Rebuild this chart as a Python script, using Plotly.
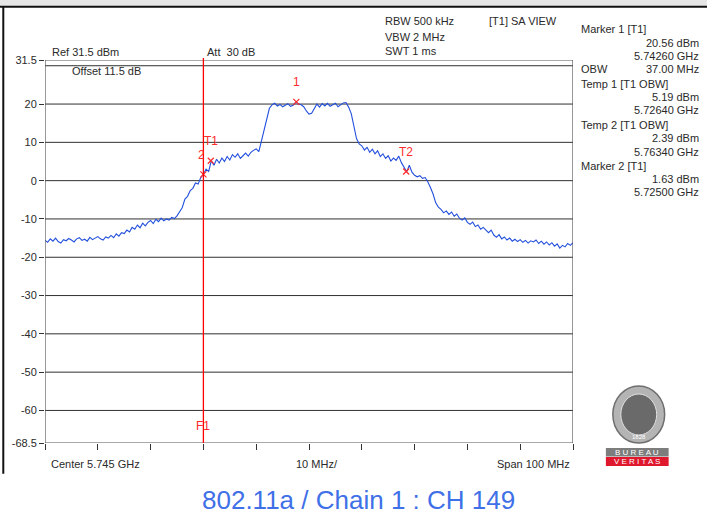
import plotly.graph_objects as go

CENTER_GHZ = 5.745
SPAN_MHZ = 100.0
STEP_MHZ = 0.5

# trace level (dBm), one sample every 0.5 MHz from -50 MHz to +50 MHz around centre
level_dbm = [
    -15.6, -16.1, -15.2, -15.8, -15.0, -15.9, -16.3, -15.4, -15.7, -15.1,
    -15.5, -16.0, -15.2, -14.9, -15.6, -15.3, -15.8, -14.8, -15.4, -15.1,
    -14.6, -15.2, -15.5, -14.7, -15.0, -14.3, -14.9, -13.9, -14.5, -13.6,
    -13.8, -12.9, -13.4, -12.2, -12.7, -11.6, -12.3, -11.1, -11.8, -10.9,
    -10.4, -11.2, -10.1, -10.7, -9.8, -10.5, -10.0, -10.3, -9.6, -9.9,
    -9.2, -8.1, -7.0, -4.8, -4.1, -2.6, -2.0, -0.6, -0.9, 0.8,
    1.6, 3.0, 2.4, 5.2, 4.0, 5.6, 4.6, 5.9, 5.0, 6.3,
    5.4, 6.8, 6.1, 7.0, 5.8, 6.5, 7.2, 6.4, 7.4, 7.9,
    8.3, 7.6, 10.5, 13.8, 16.8, 18.9, 19.8, 20.2, 19.5, 19.9,
    19.3, 19.8, 20.1, 19.4, 19.7, 20.5, 20.0, 19.8, 19.3, 18.2,
    17.4, 17.6, 18.9, 20.0, 19.2, 20.1, 19.5, 20.2, 19.4, 19.9,
    20.2, 19.3, 19.8, 20.3, 20.4, 19.2, 17.5, 14.0, 11.0, 9.6,
    9.1, 8.0, 8.7, 7.4, 8.2, 7.0, 7.8, 6.3, 7.0, 5.8,
    6.5, 5.1, 5.9, 5.3, 6.4, 4.7, 3.6, 2.3, 4.0, 2.2,
    1.4, 1.0, 1.3, 0.6, 0.8, -0.3, -1.8, -3.5, -5.8, -6.9,
    -7.5, -8.4, -7.9, -8.8, -8.2, -9.3, -8.7, -9.8, -10.3, -9.7,
    -10.9, -11.4, -10.8, -12.0, -11.6, -12.7, -12.2, -13.0, -13.6, -12.9,
    -14.2, -14.8, -14.1, -15.2, -14.7, -15.5, -15.0, -15.8, -15.3, -15.9,
    -15.4, -16.1, -15.6, -16.3, -15.7, -16.0, -15.5, -16.4, -15.8, -16.6,
    -16.0, -16.8, -16.2, -17.1, -16.5, -17.6, -16.9, -17.3, -16.4, -16.9,
    -16.2,
]
freq_ghz = [CENTER_GHZ + (-SPAN_MHZ / 2 + STEP_MHZ * i) / 1000.0 for i in range(len(level_dbm))]

# markers
marker_names = ["1", "2", "T1", "T2"]
marker_freq = [5.74260, 5.72500, 5.72640, 5.76340]
marker_level = [20.56, 1.63, 5.19, 2.39]

y_tick_vals = [31.5, 20, 10, 0, -10, -20, -30, -40, -50, -60, -68.5]
y_tick_text = ["31.5", "20", "10", "0", "-10", "-20", "-30", "-40", "-50", "-60", "-68.5"]
grid_levels = [30, 20, 10, 0, -10, -20, -30, -40, -50, -60]
x_tick_vals = [5.695 + 0.01 * k for k in range(11)]
f1_freq = 5.725

Y_MIN, Y_MAX = -68.5, 31.5
X_MIN, X_MAX = 5.695, 5.795

FONT = "Liberation Sans, Arial, sans-serif"
TXT = "#2a2a2a"
RED = "#ff2a2a"

fig = go.Figure()

fig.add_trace(go.Scatter(x=freq_ghz, y=level_dbm, mode="lines",
                         line=dict(color="#2350dc", width=1.1), hoverinfo="skip"))
fig.add_trace(go.Scatter(x=marker_freq, y=marker_level, mode="markers",
                         marker=dict(symbol="x-thin", size=6, line=dict(color=RED, width=1.2)),
                         hoverinfo="skip"))

shapes = []
for g in grid_levels:
    shapes.append(dict(type="line", xref="x", yref="y", x0=X_MIN, x1=X_MAX, y0=g, y1=g,
                       line=dict(color="#303030", width=1), layer="below"))
# frame
shapes.append(dict(type="rect", xref="x", yref="y", x0=X_MIN, x1=X_MAX, y0=Y_MIN, y1=Y_MAX,
                   line=dict(color="#555555", width=1.2)))
# F1 line
shapes.append(dict(type="line", xref="x", yref="paper", x0=f1_freq, x1=f1_freq, y0=0, y1=1.005,
                   line=dict(color="#ff0000", width=1.3)))
# window chrome
shapes.append(dict(type="rect", xref="paper", yref="paper", x0=-0.09, x1=1.3, y0=1.14, y1=1.17,
                   fillcolor="#e6e6e6", line=dict(width=0), layer="below"))
shapes.append(dict(type="line", xref="paper", yref="paper", x0=-0.09, x1=1.3, y0=1.139, y1=1.139,
                   line=dict(color="#111111", width=2)))
shapes.append(dict(type="line", xref="paper", yref="paper", x0=-0.079, x1=-0.079, y0=-0.08, y1=1.139,
                   line=dict(color="#111111", width=2)))

annotations = []

def txt(x, y, s, anchor="left", size=11, color=TXT, xref="paper", yref="paper"):
    annotations.append(dict(x=x, y=y, xref=xref, yref=yref, text=s, showarrow=False,
                            xanchor=anchor, yanchor="middle",
                            font=dict(family=FONT, size=size, color=color)))

# pixel helpers for the header/side panel texts (plot area: x 43..573, y 60..443)
def px(xp):
    return (xp - 43) / 530.0

def py(yp):
    return (443 - yp) / 383.0

txt(px(48), py(52), "Ref 31.5 dBm")
txt(px(204), py(52), "Att  30 dB")
txt(px(68), py(71), "Offset 11.5 dB")
txt(px(382), py(21), "RBW 500 kHz")
txt(px(382), py(37), "VBW 2 MHz")
txt(px(382), py(51), "SWT 1 ms")
txt(px(487), py(21), "[T1] SA VIEW")

side = [
    (29, "Marker 1 [T1]", None),
    (43, None, "20.56 dBm"),
    (56, None, "5.74260 GHz"),
    (69, "OBW", "37.00 MHz"),
    (84, "Temp 1 [T1 OBW]", None),
    (97, None, "5.19 dBm"),
    (110, None, "5.72640 GHz"),
    (125, "Temp 2 [T1 OBW]", None),
    (138, None, "2.39 dBm"),
    (152, None, "5.76340 GHz"),
    (166, "Marker 2 [T1]", None),
    (179, None, "1.63 dBm"),
    (192, None, "5.72500 GHz"),
]
for yp, left, right in side:
    if left:
        txt(px(579), py(yp), left)
    if right:
        txt(px(701), py(yp), right, anchor="right")

# marker labels
for name, f, lv, dx, dy in [("1", 5.74260, 20.56, 0, 5.2),
                            ("2", 5.72500, 1.63, -0.0004, 5.1),
                            ("T1", 5.72640, 5.19, 0.0001, 5.2),
                            ("T2", 5.76340, 2.39, 0.0, 5.1)]:
    annotations.append(dict(x=f + dx, y=lv + dy, xref="x", yref="y", text=name, showarrow=False,
                            xanchor="center", yanchor="middle",
                            font=dict(family=FONT, size=12, color=RED)))
annotations.append(dict(x=f1_freq, y=-64.0, xref="x", yref="y", text="F1", showarrow=False,
                        xanchor="center", yanchor="middle",
                        font=dict(family=FONT, size=12, color=RED)))

# x axis captions
txt(px(47), py(464), "Center 5.745 GHz")
txt(px(316), py(464), "10 MHz/", anchor="center")
txt(px(572), py(464), "Span 100 MHz", anchor="right")

# title
txt(px(358), py(500), "802.11a / Chain 1 : CH 149", anchor="center", size=26, color="#4070e8")

# Bureau Veritas logo (simplified)
shapes.append(dict(type="circle", xref="paper", yref="paper", x0=px(613), x1=px(665), y0=py(443), y1=py(386),
                   fillcolor="#b4b4b4", line=dict(color="#6e6e6e", width=1.5)))
shapes.append(dict(type="circle", xref="paper", yref="paper", x0=px(621), x1=px(657), y0=py(435), y1=py(394),
                   fillcolor="#6a6a6a", line=dict(color="#e0e0e0", width=1)))
shapes.append(dict(type="rect", xref="paper", yref="paper", x0=px(606), x1=px(669), y0=py(456.5), y1=py(448),
                   fillcolor="#7d7d7d", line=dict(width=0)))
shapes.append(dict(type="rect", xref="paper", yref="paper", x0=px(606), x1=px(669), y0=py(466), y1=py(457),
                   fillcolor="#e0182d", line=dict(width=0)))
txt(px(637.5), py(452.3), "B U R E A U", anchor="center", size=8, color="#ffffff")
txt(px(637.5), py(461.5), "V E R I T A S", anchor="center", size=8, color="#ffffff")
txt(px(639), py(437), "1828", anchor="center", size=6, color="#ffffff")

fig.update_layout(
    width=707, height=515,
    margin=dict(l=43, r=134, t=60, b=72),
    paper_bgcolor="#ffffff", plot_bgcolor="#ffffff",
    showlegend=False,
    shapes=shapes, annotations=annotations,
    xaxis=dict(range=[X_MIN, X_MAX], tickvals=x_tick_vals, showticklabels=False,
               ticks="outside", ticklen=6, tickcolor="#333333", showgrid=False,
               zeroline=False, showline=False, fixedrange=True),
    yaxis=dict(range=[Y_MIN, Y_MAX], tickvals=y_tick_vals, ticktext=y_tick_text,
               ticks="outside", ticklen=5, tickcolor="#333333", showgrid=False,
               zeroline=False, showline=False,
               tickfont=dict(family=FONT, size=11, color=TXT), fixedrange=True),
)

fig.write_html("out.html", config={"displayModeBar": False},
               post_script="document.body.style.margin='0';document.body.style.overflow='hidden';")
